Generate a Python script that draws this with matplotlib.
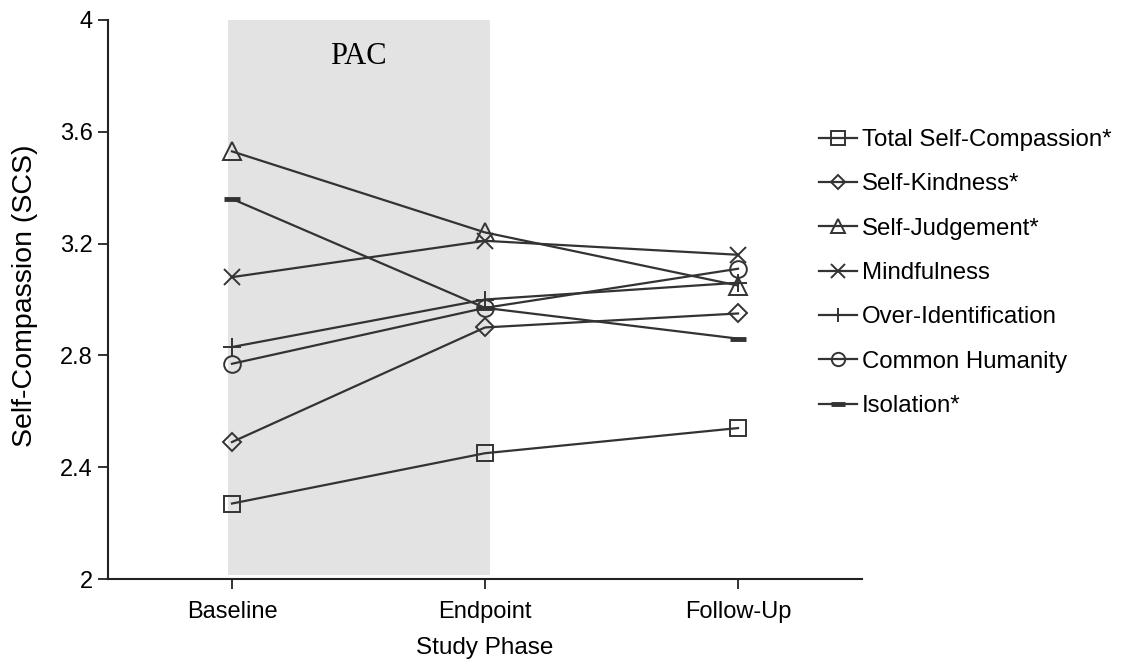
import numpy as np
import matplotlib.pyplot as plt

phases = ["Baseline", "Endpoint", "Follow-Up"]
labels = ["Total Self-Compassion*", "Self-Kindness*", "Self-Judgement*", "Mindfulness",
          "Over-Identification", "Common Humanity", "Isolation*"]
total = [2.27, 2.45, 2.54]
kindness = [2.49, 2.90, 2.95]
judgement = [3.53, 3.24, 3.05]
mindfulness = [3.08, 3.21, 3.16]
overid = [2.83, 3.00, 3.06]
humanity = [2.77, 2.97, 3.11]
isolation = [3.36, 2.97, 2.86]
series = [total, kindness, judgement, mindfulness, overid, humanity, isolation]
markers = ["s", "D", "^", "x", "+", "o", "_"]
msizes = [12, 9, 13, 12, 13, 12, 12]

plt.rcParams['font.family'] = ['Liberation Sans', 'DejaVu Sans']

fig = plt.figure(figsize=(11.28, 6.65), dpi=100)
ax = fig.add_axes([108/1128, 86/665, 754/1128, 559/665])

x = np.arange(len(phases))
ax.axvspan(-0.016, 1.02, ymin=0.007, ymax=1, color='#e3e3e3', zorder=0, lw=0)
ax.text(0.5, 3.87, "PAC", family='Liberation Serif', fontsize=22, ha='center', va='center')

for vals, lab, m, ms in zip(series, labels, markers, msizes):
    mew = 3.5 if m == "_" else 1.4
    ax.plot(x, vals, color='#333333', lw=1.6, marker=m, markersize=ms,
            markerfacecolor='none', markeredgecolor='#333333', markeredgewidth=mew,
            label=lab, zorder=3)

ax.set_xlim(-0.49, 2.49)
ax.set_ylim(2, 4)
ax.set_yticks([2, 2.4, 2.8, 3.2, 3.6, 4])
ax.set_yticklabels(["2", "2.4", "2.8", "3.2", "3.6", "4"])
ax.set_xticks(x)
ax.set_xticklabels(phases)
ax.tick_params(axis='both', labelsize=17, length=7, width=1.3, color='#222222')
ax.tick_params(axis='x', pad=9)
ax.tick_params(axis='y', pad=4)
for s in ['top', 'right']:
    ax.spines[s].set_visible(False)
for s in ['left', 'bottom']:
    ax.spines[s].set_linewidth(1.5)
    ax.spines[s].set_color('#222222')
ax.set_xlabel("Study Phase", fontsize=17.5, va='center')
ax.xaxis.set_label_coords(0.5, -0.123)
ax.set_ylabel("Self-Compassion (SCS)", fontsize=20.5, va='center')
ax.yaxis.set_label_coords(-0.110, 0.506)

leg = fig.legend(loc='upper left', bbox_to_anchor=(819/1128, 1 - 129/665), frameon=False,
                 fontsize=17.3, handlelength=1.6, handletextpad=0.2, labelspacing=0.93,
                 markerscale=0.8, borderaxespad=0, borderpad=0)

fig.savefig("out.png", dpi=100)
